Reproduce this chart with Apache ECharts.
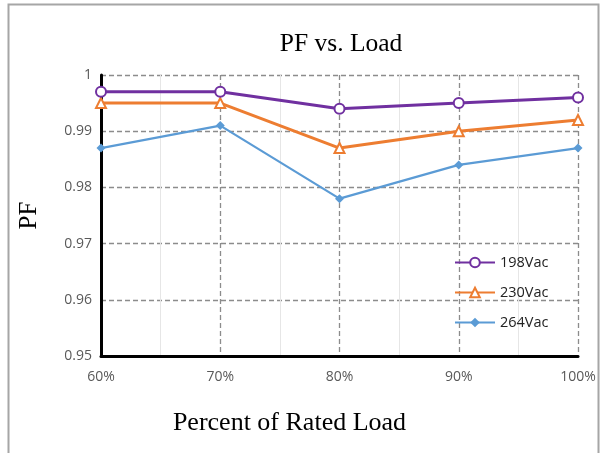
<!DOCTYPE html>
<html>
<head>
<meta charset="utf-8">
<script src="https://cdn.jsdelivr.net/npm/echarts@6/dist/echarts.min.js"></script>
<style>
  html, body { margin: 0; padding: 0; background: #fff; }
  #chart { width: 602px; height: 453px; }
</style>
</head>
<body>
<div id="chart"></div>
<script>
// Load levels (percent of rated load)
const loadPct = [60, 70, 80, 90, 100];
// Power factor per input voltage
const pf198 = [0.997, 0.997, 0.994, 0.995, 0.996];
const pf230 = [0.995, 0.995, 0.987, 0.990, 0.992];
const pf264 = [0.987, 0.991, 0.978, 0.984, 0.987];
const seriesNames = ['198Vac', '230Vac', '264Vac'];
const yTicks = [0.95, 0.96, 0.97, 0.98, 0.99, 1];

const pairs = vals => loadPct.map((x, i) => [x, vals[i]]);

const chart = echarts.init(document.getElementById('chart'));
const serif = '"Liberation Serif", "DejaVu Serif", serif';
const sans = '"Open Sans", "Liberation Sans", sans-serif';

chart.setOption({
  animation: false,
  backgroundColor: '#fff',
  title: {
    text: 'PF vs. Load',
    left: 336, top: 26, textAlign: 'center',
    textStyle: { fontFamily: serif, fontSize: 25.5, fontWeight: 'normal', color: '#000' }
  },
  graphic: [{
    type: 'rect', shape: { x: 8.5, y: 4.5, width: 590, height: 470 },
    style: { fill: 'none', stroke: '#a6a6a6', lineWidth: 2 }, silent: true
  }],
  grid: { left: 101, right: 24, top: 75, bottom: 97 },
  legend: {
    orient: 'vertical', left: 449, top: 250, itemGap: 15,
    itemWidth: 40, itemHeight: 12,
    data: seriesNames,
    textStyle: { fontFamily: sans, fontSize: 14.5, color: '#222' }
  },
  xAxis: {
    type: 'value', min: 60, max: 100, interval: 10,
    name: 'Percent of Rated Load', nameLocation: 'middle', nameGap: 54,
    nameTextStyle: { fontFamily: serif, fontSize: 26, color: '#000', padding: [0, 0, 0, -100] },
    axisLine: { show: true, onZero: false, lineStyle: { color: '#000', width: 3 } },
    axisTick: { show: false },
    axisLabel: { formatter: '{value}%', margin: 14, fontFamily: sans, fontSize: 14, color: '#595959' },
    splitLine: { show: true, lineStyle: { type: [5, 3], color: '#8c8c8c', width: 1.3 } },
    minorTick: { show: false, splitNumber: 2 },
    minorSplitLine: { show: true, lineStyle: { color: '#e6e6e6', width: 1 } }
  },
  yAxis: {
    type: 'value', min: yTicks[0], max: yTicks[yTicks.length - 1], interval: 0.01,
    name: 'PF', nameLocation: 'middle', nameGap: 59, nameRotate: 90,
    nameTextStyle: { fontFamily: serif, fontSize: 25, color: '#000' },
    axisLine: { show: true, lineStyle: { color: '#000', width: 3 } },
    axisTick: { show: false },
    axisLabel: { formatter: v => String(+v.toFixed(2)), margin: 9, fontFamily: sans, fontSize: 14, color: '#595959' },
    splitLine: { show: true, lineStyle: { type: [5, 3], color: '#8c8c8c', width: 1.3 } }
  },
  series: [
    {
      name: seriesNames[0], type: 'line', data: pairs(pf198),
      symbol: 'circle', symbolSize: 10,
      lineStyle: { color: '#7030A0', width: 3 },
      itemStyle: { color: '#fff', borderColor: '#7030A0', borderWidth: 2 },
      z: 5
    },
    {
      name: seriesNames[1], type: 'line', data: pairs(pf230),
      symbol: 'triangle', symbolSize: 10,
      lineStyle: { color: '#ED7D31', width: 3 },
      itemStyle: { color: '#fff', borderColor: '#ED7D31', borderWidth: 2 },
      z: 4
    },
    {
      name: seriesNames[2], type: 'line', data: pairs(pf264),
      symbol: 'diamond', symbolSize: 9,
      lineStyle: { color: '#5B9BD5', width: 2.2 },
      itemStyle: { color: '#5B9BD5' },
      z: 3
    }
  ]
});
</script>
</body>
</html>
